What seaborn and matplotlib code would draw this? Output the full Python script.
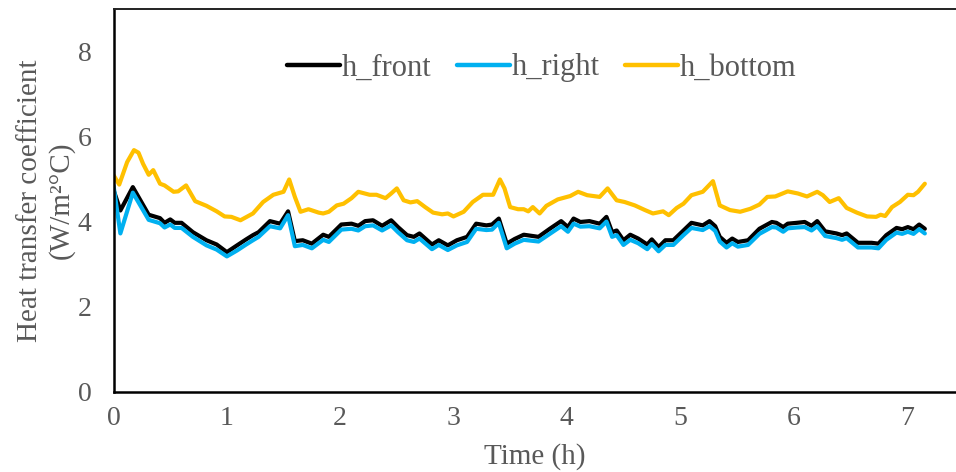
import numpy as np
import pandas as pd
import matplotlib
matplotlib.use("Agg")
import matplotlib.pyplot as plt
import seaborn as sns

# ---- data ----
t_front = [0.00, 0.06, 0.17, 0.31, 0.41, 0.45, 0.50, 0.54, 0.60, 0.70, 0.82, 0.91, 1.00,
           1.09, 1.17, 1.23, 1.28, 1.38, 1.47, 1.54, 1.60, 1.67, 1.75, 1.85, 1.90, 2.01,
           2.10, 2.16, 2.22, 2.29, 2.37, 2.45, 2.51, 2.59, 2.65, 2.70, 2.81, 2.87, 2.95,
           3.03, 3.12, 3.20, 3.29, 3.34, 3.40, 3.47, 3.54, 3.62, 3.75, 3.85, 3.95, 4.01,
           4.06, 4.12, 4.20, 4.29, 4.35, 4.40, 4.44, 4.50, 4.56, 4.63, 4.71, 4.75, 4.81,
           4.87, 4.94, 5.03, 5.10, 5.20, 5.26, 5.31, 5.35, 5.41, 5.46, 5.51, 5.60, 5.70,
           5.81, 5.85, 5.91, 5.95, 6.03, 6.10, 6.16, 6.21, 6.28, 6.38, 6.43, 6.47, 6.57,
           6.69, 6.75, 6.82, 6.91, 6.96, 7.01, 7.06, 7.11, 7.16]
h_front = [4.75, 4.27, 4.82, 4.17, 4.09, 3.98, 4.06, 3.98, 3.98, 3.76, 3.57, 3.47, 3.29,
           3.45, 3.59, 3.69, 3.76, 4.02, 3.96, 4.25, 3.55, 3.57, 3.49, 3.70, 3.65, 3.94,
           3.96, 3.91, 4.02, 4.04, 3.91, 4.04, 3.88, 3.69, 3.65, 3.73, 3.47, 3.57, 3.45,
           3.57, 3.65, 3.96, 3.92, 3.94, 4.08, 3.49, 3.60, 3.70, 3.65, 3.84, 4.02, 3.88,
           4.08, 4.00, 4.02, 3.96, 4.12, 3.76, 3.80, 3.57, 3.70, 3.61, 3.47, 3.59, 3.41,
           3.57, 3.57, 3.80, 3.98, 3.92, 4.02, 3.90, 3.65, 3.51, 3.61, 3.53, 3.57, 3.84,
           4.00, 3.98, 3.88, 3.96, 3.98, 4.00, 3.91, 4.02, 3.78, 3.73, 3.69, 3.73, 3.51,
           3.51, 3.49, 3.69, 3.86, 3.83, 3.88, 3.83, 3.94, 3.84]

t_right = t_front
h_right = [4.85, 3.73, 4.69, 4.05, 3.97, 3.87, 3.94, 3.86, 3.86, 3.65, 3.45, 3.35, 3.19,
           3.33, 3.47, 3.57, 3.65, 3.90, 3.85, 4.16, 3.43, 3.46, 3.38, 3.58, 3.53, 3.82,
           3.84, 3.80, 3.90, 3.92, 3.80, 3.92, 3.76, 3.57, 3.53, 3.61, 3.36, 3.46, 3.34,
           3.45, 3.53, 3.84, 3.81, 3.82, 3.98, 3.38, 3.49, 3.58, 3.54, 3.72, 3.90, 3.77,
           3.96, 3.89, 3.90, 3.85, 4.01, 3.65, 3.69, 3.46, 3.58, 3.50, 3.36, 3.48, 3.31,
           3.46, 3.46, 3.69, 3.86, 3.81, 3.90, 3.79, 3.54, 3.40, 3.50, 3.42, 3.46, 3.72,
           3.88, 3.87, 3.77, 3.85, 3.87, 3.88, 3.80, 3.90, 3.67, 3.62, 3.58, 3.62, 3.40,
           3.40, 3.38, 3.58, 3.75, 3.72, 3.77, 3.72, 3.83, 3.73]

t_bottom = [0.00, 0.05, 0.12, 0.18, 0.22, 0.26, 0.31, 0.35, 0.41, 0.45, 0.53, 0.57, 0.64,
            0.72, 0.82, 0.91, 0.98, 1.04, 1.12, 1.23, 1.32, 1.41, 1.50, 1.55, 1.60, 1.65,
            1.72, 1.81, 1.85, 1.90, 1.97, 2.03, 2.10, 2.16, 2.26, 2.32, 2.40, 2.45, 2.50,
            2.56, 2.62, 2.68, 2.75, 2.82, 2.90, 2.95, 3.00, 3.09, 3.17, 3.26, 3.35, 3.41,
            3.45, 3.50, 3.57, 3.62, 3.66, 3.70, 3.76, 3.82, 3.92, 4.03, 4.10, 4.18, 4.29,
            4.36, 4.44, 4.51, 4.60, 4.69, 4.76, 4.85, 4.90, 4.97, 5.03, 5.10, 5.20, 5.29,
            5.35, 5.44, 5.53, 5.62, 5.70, 5.77, 5.84, 5.95, 6.04, 6.12, 6.21, 6.26, 6.32,
            6.40, 6.47, 6.56, 6.65, 6.73, 6.77, 6.81, 6.87, 6.94, 7.01, 7.06, 7.10, 7.16]
h_bottom = [5.10, 4.88, 5.41, 5.69, 5.63, 5.37, 5.11, 5.22, 4.90, 4.86, 4.71, 4.72, 4.86,
            4.49, 4.38, 4.25, 4.13, 4.12, 4.04, 4.20, 4.47, 4.64, 4.71, 5.00, 4.59, 4.24,
            4.30, 4.22, 4.20, 4.24, 4.39, 4.43, 4.56, 4.71, 4.64, 4.64, 4.56, 4.67, 4.79,
            4.51, 4.46, 4.49, 4.35, 4.22, 4.18, 4.20, 4.13, 4.24, 4.47, 4.64, 4.64, 5.00,
            4.79, 4.35, 4.30, 4.30, 4.25, 4.35, 4.20, 4.38, 4.53, 4.61, 4.71, 4.63, 4.59,
            4.79, 4.51, 4.47, 4.39, 4.28, 4.20, 4.25, 4.16, 4.33, 4.43, 4.63, 4.71, 4.96,
            4.39, 4.28, 4.24, 4.31, 4.41, 4.59, 4.60, 4.72, 4.67, 4.60, 4.71, 4.63, 4.47,
            4.56, 4.33, 4.22, 4.13, 4.12, 4.17, 4.14, 4.35, 4.47, 4.64, 4.63, 4.71, 4.90]

series_names = ["h_front", "h_right", "h_bottom"]
colors = ["#000000", "#00B0F0", "#FFC000"]
x_ticks = [0, 1, 2, 3, 4, 5, 6, 7]
y_ticks = [0, 2, 4, 6, 8]

df = pd.concat([
    pd.DataFrame({"t": t_front, "h": h_front, "series": "h_front"}),
    pd.DataFrame({"t": t_right, "h": h_right, "series": "h_right"}),
    pd.DataFrame({"t": t_bottom, "h": h_bottom, "series": "h_bottom"}),
], ignore_index=True)

sns.set_theme(style="white")
plt.rcParams["font.family"] = ["Liberation Serif", "DejaVu Serif"]
gray = "#595959"

fig = plt.figure(figsize=(9.56, 4.72), dpi=100)
ax = fig.add_axes([0.1188, 0.1695, 0.8812, 0.8105])

sns.lineplot(data=df, x="t", y="h", hue="series", hue_order=series_names,
             palette=dict(zip(series_names, colors)), estimator=None, sort=False,
             linewidth=3.0, ax=ax)
for ln in ax.get_lines():
    ln.set_solid_joinstyle("round")
    ln.set_solid_capstyle("round")

ax.set_xlim(0, 7.435)
ax.set_ylim(0, 9)
ax.set_xticks(x_ticks)
ax.set_yticks(y_ticks)
ax.tick_params(axis="both", direction="out", length=7, width=1.5, color="black",
               labelsize=20, labelcolor=gray)
ax.tick_params(axis="x", pad=3)
ax.tick_params(axis="y", pad=9)

for s in ["left", "bottom"]:
    ax.spines[s].set_color("black")
    ax.spines[s].set_linewidth(1.8)
ax.spines["top"].set_color("#222222")
ax.spines["top"].set_linewidth(1.4)
ax.spines["right"].set_visible(False)

ax.set_xlabel("Time (h)", fontsize=21, color=gray, labelpad=9)
ax.set_ylabel("Heat transfer coefficient\n(W/m²°C)", fontsize=21, color=gray,
              labelpad=2, linespacing=1.25)

leg = ax.legend(loc="center", bbox_to_anchor=(0.508, 0.847), ncol=3, frameon=False,
                fontsize=22, handlelength=1.73, handletextpad=0.05, columnspacing=0.85,
                borderpad=0)
for txt in leg.get_texts():
    txt.set_color(gray)
for line in leg.get_lines():
    line.set_linewidth(3.2)

fig.savefig("out.png", dpi=100)
